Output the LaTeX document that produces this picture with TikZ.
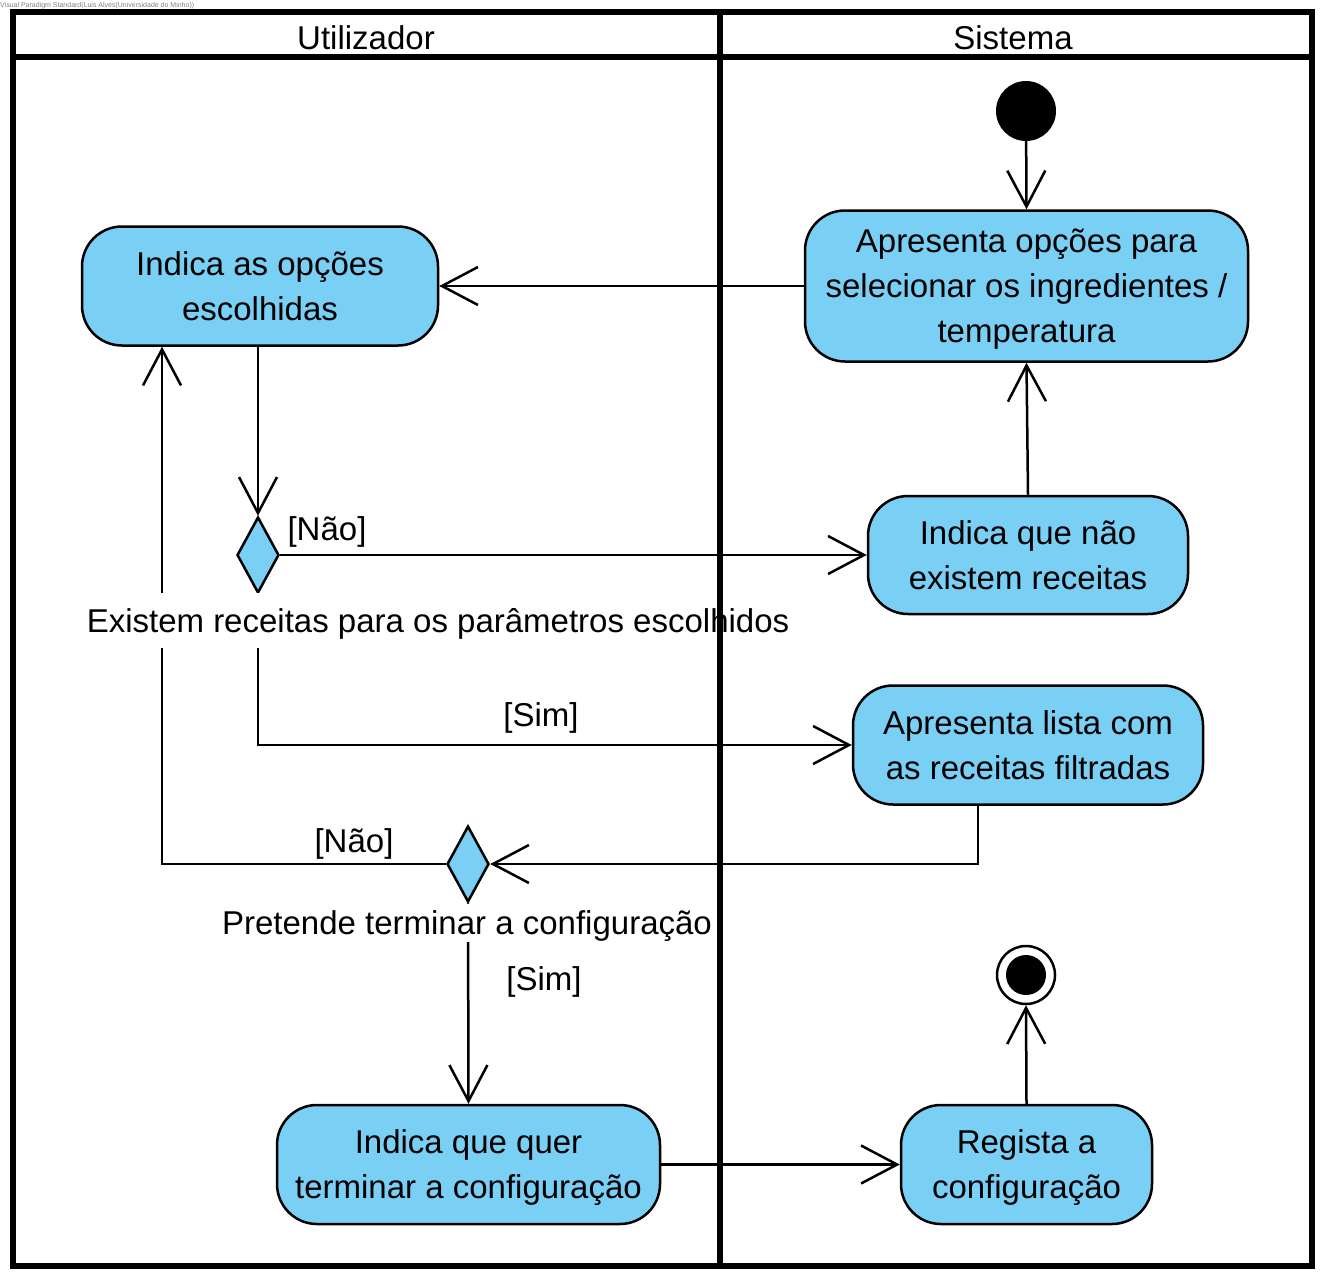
\documentclass[tikz,border=0pt]{standalone}
\usepackage{fontspec}
\setmainfont{Liberation Sans}
\usetikzlibrary{shapes.geometric,arrows.meta}
\definecolor{actfill}{RGB}{122,207,245}
\begin{document}
\begin{tikzpicture}[x=1pt,y=-1pt,
  font=\fontsize{33}{45}\selectfont,
  act/.style={draw=black,line width=2.5pt,fill=actfill,rounded corners=40pt,
    rectangle,align=center,inner sep=0pt,text depth=0pt},
  dec/.style={draw=black,line width=2.5pt,fill=actfill,diamond,inner sep=0pt,
    minimum width=42pt,minimum height=76pt},
  flow/.style={line width=2.5pt,-{Straight Barb[length=36pt,width=38pt,line width=2.5pt]}},
  guard/.style={inner sep=2pt,text depth=0pt},
  lbl/.style={fill=white,inner sep=0pt,text depth=0pt},
  frame/.style={line width=6pt}
]
\useasboundingbox (0,0) rectangle (1329,1284);
\fill[white] (0,0) rectangle (1329,1284);
\node[anchor=north west,inner sep=0pt,text=gray,font=\fontsize{7}{8}\selectfont] (wm) at (0,2) {Visual Paradigm Standard(Luis Alves(Universidade do Minho))};

% nodes
\node[circle,fill=black,minimum size=60pt,inner sep=0pt] (init) at (1026,111) {};
\node[act,minimum width=443pt,minimum height=151pt] (a1) at (1026.5,286) {Apresenta opções para\\selecionar os ingredientes /\\temperatura};
\node[act,minimum width=356pt,minimum height=119pt] (b1) at (260,286) {Indica as opções\\escolhidas};
\node[dec] (d1) at (258,555) {};
\node[act,minimum width=320pt,minimum height=118pt] (a2) at (1028,555) {Indica que não\\existem receitas};
\node[act,minimum width=350pt,minimum height=119pt] (a3) at (1028,745) {Apresenta lista com\\as receitas filtradas};
\node[dec] (d2) at (468,864) {};
\node[act,minimum width=383pt,minimum height=119pt] (b2) at (468.5,1164.5) {Indica que quer\\terminar a configuração};
\node[act,minimum width=251pt,minimum height=119pt] (a4) at (1026.5,1164.5) {Regista a\\configuração};
\node[circle,draw=black,line width=2.5pt,fill=white,minimum size=58pt,inner sep=0pt] (final) at (1026,975) {};
\fill[black] (final.center) circle (20pt);

% edges
\draw[flow] (init) -- (a1.north);
\draw[flow] (a1.west) -- (b1.east);
\draw[flow] (a2.north) -- (a1.south);
\draw[flow] (b1.south -| d1.north) -- (d1.north);
\draw[flow] (d1.east) -- (a2.west);
\draw[flow] (d1.south) |- (a3.west);
\draw[flow] ([xshift=-50pt]a3.south) |- (d2.east);
\draw[flow] (d2.west) -| ([xshift=-98pt]b1.south);
\draw[flow] (d2.south) -- (b2.north);
\draw[flow] (b2.east) -- (a4.west);
\draw[flow] (a4.north) -- (final.south);

% labels
\node[guard] (g1) at (327,529) {[Não]};
\node[guard] (g2) at (541,715) {[Sim]};
\node[guard] (g3) at (354,841) {[Não]};
\node[guard] (g4) at (544,979) {[Sim]};
\node[lbl,minimum height=55pt] (l1) at (438,620.5) {Existem receitas para os parâmetros escolhidos};
\node[lbl,minimum height=38pt] (l2) at (467,923) {Pretende terminar a configuração};

% swimlane frame
\draw[frame] (12.5,12) rectangle (1311.5,1265.5);
\draw[frame] (12.5,57) -- (1311.5,57);
\draw[frame] (720,12) -- (720,1265.5);
\node[text depth=0pt] (h1) at (366,38) {Utilizador};
\node[text depth=0pt] (h2) at (1013,38) {Sistema};
\end{tikzpicture}
\end{document}
